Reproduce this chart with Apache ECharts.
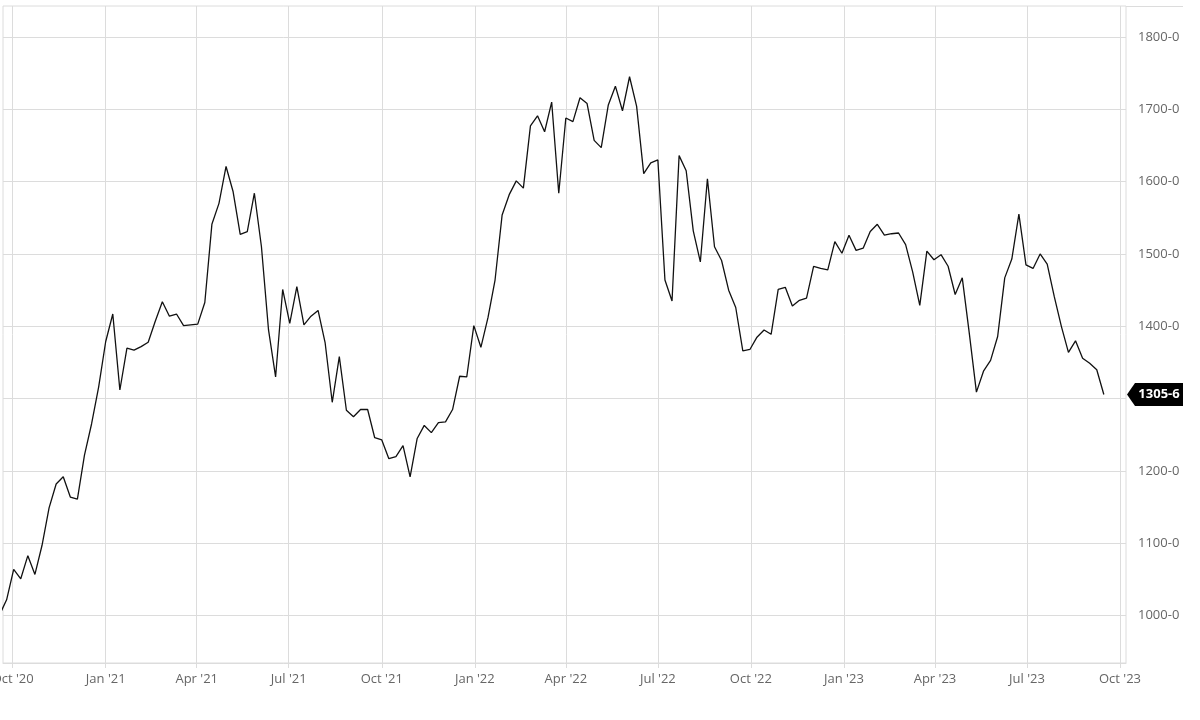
<!DOCTYPE html>
<html>
<head>
<meta charset="utf-8">
<script src="https://cdn.jsdelivr.net/npm/echarts@6/dist/echarts.min.js"></script>
<style>
html,body{margin:0;padding:0;background:#fff;}
#chart{width:1200px;height:720px;}
</style>
</head>
<body>
<div id="chart"></div>
<script>
// Weekly closes (Fridays), first week partly off the left edge
const firstWeek = '2020-09-18';
const closes = [
  1001,1022,1064,1051,1083,1057,1097,1149,1182,1192,
  1164,1161,1222,1265,1316,1379,1417,1312,1370,1367,
  1372,1378,1407,1434,1414,1417,1401,1402,1403,1433,
  1541,1570,1621,1586,1527,1531,1584,1510,1395,1330,
  1451,1404,1455,1402,1414,1422,1377,1295,1358,1284,
  1275,1285,1285,1246,1243,1217,1220,1235,1192,1245,
  1263,1253,1267,1268,1285,1331,1330,1401,1371,1412,
  1464,1554,1582,1601,1591,1677,1691,1669,1710,1584,
  1688,1683,1716,1708,1657,1647,1706,1732,1698,1745,
  1704,1611,1626,1630,1464,1435,1636,1615,1532,1489,
  1604,1510,1491,1450,1426,1366,1368,1385,1395,1389,
  1451,1454,1428,1436,1439,1483,1480,1478,1517,1501,
  1526,1505,1508,1531,1541,1526,1528,1529,1513,1475,
  1429,1504,1492,1499,1483,1444,1467,1390,1309,1338,
  1353,1386,1467,1493,1555,1485,1480,1500,1486,1441,
  1400,1364,1380,1356,1349,1340,1305.75
];
const lastLabel = '1305-6';
const xTickDates = ['2020-10-01','2021-01-01','2021-04-01','2021-07-01','2021-10-01','2022-01-01','2022-04-01','2022-07-01','2022-10-01','2023-01-01','2023-04-01','2023-07-01','2023-10-01'];
const xTickLabels = ["Oct '20","Jan '21","Apr '21","Jul '21","Oct '21","Jan '22","Apr '22","Jul '22","Oct '22","Jan '23","Apr '23","Jul '23","Oct '23"];
const yTickValues = [1000,1100,1200,1300,1400,1500,1600,1700,1800];
const yTickLabels = ['1000-0','1100-0','1200-0','1300-0','1400-0','1500-0','1600-0','1700-0','1800-0'];
const xMin = '2020-09-21T10:30:00';
const xMax = '2023-10-06T22:00:00';
const yMin = 934.6, yMax = 1842.8;

// build weekly dates
function weekDates(start, n) {
  const out = [];
  const d0 = new Date(start + 'T00:00:00');
  for (let i = 0; i < n; i++) {
    const d = new Date(d0.getTime());
    d.setDate(d0.getDate() + 7 * i);
    out.push(d);
  }
  return out;
}
const dates = weekDates(firstWeek, closes.length);
const seriesData = dates.map((d, i) => [d.getTime(), closes[i]]);
const xTickTimes = xTickDates.map(s => new Date(s + 'T00:00:00').getTime());
const xMinT = new Date(xMin).getTime();
const xMaxT = new Date(xMax).getTime();

const gridColor = '#dcdcdc';
const chart = echarts.init(document.getElementById('chart'), null, {renderer: 'canvas'});
chart.setOption({
  animation: false,
  backgroundColor: '#ffffff',
  textStyle: {fontFamily: '"Open Sans", sans-serif'},
  grid: {left: 3, right: 74, top: 6, bottom: 57, show: true, borderColor: gridColor, borderWidth: 1,
         containLabel: false, outerBoundsMode: 'none'},
  xAxis: {
    type: 'value',
    min: xMinT,
    max: xMaxT,
    scale: true,
    axisLine: {show: true, lineStyle: {color: gridColor, width: 1}},
    axisTick: {show: true, length: 5, lineStyle: {color: gridColor}, customValues: xTickTimes},
    splitLine: {show: true, lineStyle: {color: gridColor, width: 1}},
    axisLabel: {
      customValues: xTickTimes,
      showMinLabel: true, showMaxLabel: true, hideOverlap: false,
      alignMinLabel: 'center', alignMaxLabel: 'center',
      color: '#666', fontSize: 13, margin: 10, fontFamily: '"Open Sans", sans-serif',
      formatter: function (v) {
        const i = xTickTimes.indexOf(v);
        return i >= 0 ? xTickLabels[i] : '';
      }
    }
  },
  yAxis: {
    type: 'value',
    position: 'right',
    min: yMin, max: yMax,
    axisLine: {show: false},
    axisTick: {show: false, customValues: yTickValues},
    splitLine: {show: true, lineStyle: {color: gridColor, width: 1}},
    axisLabel: {
      customValues: yTickValues,
      color: '#666', fontSize: 13, margin: 12, fontFamily: '"Open Sans", sans-serif',
      formatter: function (v) {
        const i = yTickValues.indexOf(v);
        return i >= 0 ? yTickLabels[i] : '';
      }
    }
  },
  series: [{
    type: 'line',
    data: seriesData,
    showSymbol: false,
    symbol: 'none',
    clip: true,
    lineStyle: {color: '#111', width: 1.3},
    z: 5
  }]
});

// last-price tag at the axis, placed through the chart's own scales
const lastPt = chart.convertToPixel({xAxisIndex: 0, yAxisIndex: 0}, seriesData[seriesData.length - 1]);
const rightX = chart.convertToPixel({xAxisIndex: 0}, xMaxT);
const topY = chart.convertToPixel({yAxisIndex: 0}, yMax);
const ty = lastPt[1];
const tagL = rightX + 1, tagTip = 8, tagW = 48, tagH = 23;
chart.setOption({
  graphic: [
    {type: 'line', shape: {x1: rightX, y1: topY + 0.5, x2: 1183, y2: topY + 0.5}, style: {stroke: gridColor, lineWidth: 1}, silent: true},
    {type: 'polygon', shape: {points: [
      [tagL, ty], [tagL + tagTip, ty - tagH / 2], [tagL + tagTip + tagW, ty - tagH / 2],
      [tagL + tagTip + tagW, ty + tagH / 2], [tagL + tagTip, ty + tagH / 2]
    ]}, style: {fill: '#000'}, z: 10, silent: true},
    {type: 'text', x: tagL + tagTip + tagW / 2, y: ty, z: 11, silent: true,
      style: {text: lastLabel, fill: '#fff', font: 'bold 13px "Open Sans", sans-serif', align: 'center', verticalAlign: 'middle'}}
  ]
});
</script>
</body>
</html>
